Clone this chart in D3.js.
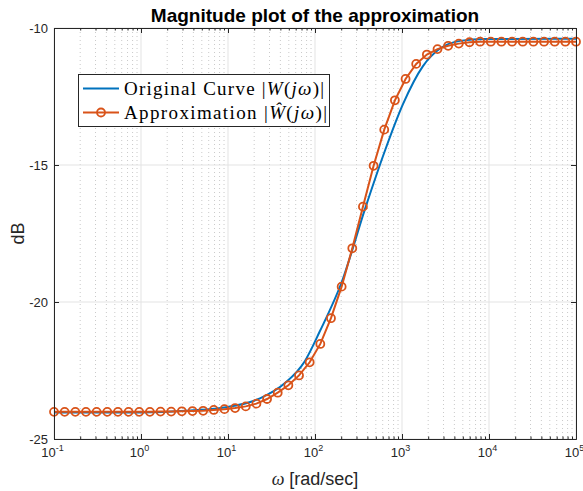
<!DOCTYPE html>
<html>
<head>
<meta charset="utf-8">
<script src="https://cdn.jsdelivr.net/npm/d3@7"></script>
<style>
  body { margin: 0; background: #fff; }
</style>
</head>
<body>
<script>
// original curve |W(jw)|
const origW = [0.1, 1, 3.66, 9.5, 23.3, 45.2, 76.7, 114, 203, 376, 638, 1026, 1742, 2735, 4645, 9000, 1e5]
const origDb = [-24.03, -24.03, -23.96, -23.84, -23.52, -22.96, -22.15, -21.06, -19.27, -16.6, -14.47, -12.78, -11.39, -10.75, -10.47, -10.4, -10.39]

// approximation |W^(jw)|, one value per marker
const approxW = [0.1, 0.1326, 0.1758, 0.233, 0.3089, 0.4095, 0.5429, 0.7197, 0.9541, 1.265,
  1.677, 2.223, 2.947, 3.907, 5.179, 6.866, 9.103, 12.07, 16.0, 21.21,
  28.12, 37.28, 49.42, 65.51, 86.85, 115.1, 152.6, 202.4, 268.3, 355.6,
  471.5, 625.1, 828.6, 1099, 1456, 1931, 2560, 3393, 4498, 5964,
  7906, 10481, 13895, 18421, 24421, 32375, 42919, 56899, 75431, 100000]
const approxDb = [-24.01, -24.01, -24.01, -24.01, -24.01, -24.01, -24.01, -24.01, -24.01, -24.01,
  -24.0, -24.0, -23.99, -23.98, -23.97, -23.94, -23.91, -23.87, -23.81, -23.71,
  -23.54, -23.31, -23.04, -22.68, -22.2, -21.53, -20.59, -19.44, -18.04, -16.52,
  -15.03, -13.71, -12.64, -11.86, -11.31, -10.97, -10.77, -10.65, -10.57, -10.52,
  -10.5, -10.5, -10.5, -10.5, -10.5, -10.5, -10.5, -10.5, -10.5, -10.5]

const decades = [0.1, 1, 10, 100, 1000, 10000, 100000]
const decadeExp = ['-1', '0', '1', '2', '3', '4', '5']
const yTicks = [-25, -20, -15, -10]

let width = 583
let height = 491
let pLeft = 54, pRight = 576, pTop = 28, pBottom = 439
let blue = '#0072bd'
let red = '#d95319'
let axisColor = '#262626'
let sans = '"Liberation Sans", Arial, sans-serif'
let serif = '"Liberation Serif", "Times New Roman", serif'

let minor = []
decades.slice(0, -1).forEach(d => {
  for (let m = 2; m <= 9; m++) minor.push(d * m)
})

let svg = d3.select('body').append('svg')
  .attr('width', width)
  .attr('height', height)
  .style('font-family', sans)

//scales
let xScale = d3.scaleLog().domain([0.1, 1e5]).range([pLeft, pRight])
let yScale = d3.scaleLinear().domain([-25, -10]).range([pBottom, pTop])

// grid
let grid = svg.append('g')
grid.selectAll('.minor').data(minor).enter().append('line')
  .attr('x1', d => xScale(d)).attr('x2', d => xScale(d))
  .attr('y1', pTop).attr('y2', pBottom)
  .attr('stroke', '#bdbdbd').attr('stroke-width', 0.8)
  .attr('stroke-dasharray', '1,3')
grid.selectAll('.vmajor').data(decades).enter().append('line')
  .attr('x1', d => xScale(d)).attr('x2', d => xScale(d))
  .attr('y1', pTop).attr('y2', pBottom)
  .attr('stroke', '#e3e3e3').attr('stroke-width', 1)
grid.selectAll('.hmajor').data(yTicks).enter().append('line')
  .attr('x1', pLeft).attr('x2', pRight)
  .attr('y1', d => yScale(d)).attr('y2', d => yScale(d))
  .attr('stroke', '#e3e3e3').attr('stroke-width', 1)

// curves
let line = d3.line()
  .x(d => xScale(d[0]))
  .y(d => yScale(d[1]))

svg.append('path')
  .datum(origW.map((w, i) => [w, origDb[i]]))
  .attr('d', line.curve(d3.curveMonotoneX))
  .attr('fill', 'none')
  .attr('stroke', blue)
  .attr('stroke-width', 2)

let approx = approxW.map((w, i) => [w, approxDb[i]])
svg.append('path')
  .datum(approx)
  .attr('d', d3.line().x(d => xScale(d[0])).y(d => yScale(d[1])))
  .attr('fill', 'none')
  .attr('stroke', red)
  .attr('stroke-width', 2)
svg.selectAll('circle.mk').data(approx).enter().append('circle')
  .attr('class', 'mk')
  .attr('cx', d => xScale(d[0]))
  .attr('cy', d => yScale(d[1]))
  .attr('r', 4)
  .attr('fill', 'none')
  .attr('stroke', red)
  .attr('stroke-width', 1.8)

// axes (ticks pointing inward)
function styleAxis(g) {
  g.selectAll('path, line').attr('stroke', axisColor)
  g.selectAll('text').attr('fill', axisColor).attr('font-size', 13).style('font-family', sans)
}
let noLabel = () => ''

svg.append('g').attr('transform', `translate(0,${pBottom})`)
  .call(d3.axisBottom(xScale).tickValues(minor).tickSize(-2.5).tickSizeOuter(0).tickFormat(noLabel))
  .call(styleAxis)
let xAxis = svg.append('g').attr('transform', `translate(0,${pBottom})`)
  .call(d3.axisBottom(xScale).tickValues(decades).tickSize(-5).tickSizeOuter(0).tickPadding(9).tickFormat(noLabel))
  .call(styleAxis)
xAxis.selectAll('.tick text').each(function (d, i) {
  let t = d3.select(this).attr('dx', -2)
  t.append('tspan').text('10')
  t.append('tspan').attr('dy', -6).attr('font-size', 9).text(decadeExp[i])
})

svg.append('g').attr('transform', `translate(0,${pTop})`)
  .call(d3.axisTop(xScale).tickValues(minor).tickSize(-2.5).tickSizeOuter(0).tickFormat(noLabel))
  .call(styleAxis)
svg.append('g').attr('transform', `translate(0,${pTop})`)
  .call(d3.axisTop(xScale).tickValues(decades).tickSize(-5).tickSizeOuter(0).tickFormat(noLabel))
  .call(styleAxis)

svg.append('g').attr('transform', `translate(${pLeft},0)`)
  .call(d3.axisLeft(yScale).tickValues(yTicks).tickSize(-5).tickSizeOuter(0).tickPadding(6).tickFormat(d => String(d)))
  .call(styleAxis)
svg.append('g').attr('transform', `translate(${pRight},0)`)
  .call(d3.axisRight(yScale).tickValues(yTicks).tickSize(-5).tickSizeOuter(0).tickFormat(noLabel))
  .call(styleAxis)

// labels
svg.append('text')
  .attr('x', (pLeft + pRight) / 2).attr('y', 22)
  .attr('text-anchor', 'middle')
  .attr('font-size', 19).attr('font-weight', 'bold').attr('fill', '#000')
  .text('Magnitude plot of the approximation')

let xl = svg.append('text')
  .attr('x', (pLeft + pRight) / 2).attr('y', 485)
  .attr('text-anchor', 'middle')
  .attr('font-size', 18).attr('fill', axisColor)
xl.append('tspan').attr('font-style', 'italic').style('font-family', serif).text('ω')
xl.append('tspan').text(' [rad/sec]')

svg.append('text')
  .attr('transform', `translate(24,${(pTop + pBottom) / 2}) rotate(-90)`)
  .attr('text-anchor', 'middle')
  .attr('font-size', 18).attr('fill', axisColor)
  .text('dB')

// legend
let lg = svg.append('g')
lg.append('rect')
  .attr('x', 78.5).attr('y', 74.5).attr('width', 251).attr('height', 52)
  .attr('fill', '#fff').attr('stroke', axisColor).attr('stroke-width', 1)
let entries = [
  { color: blue, marker: false, pre: 'Original Curve |', sym: 'W', post: '(', jw: 'jω', end: ')|', len: 200 },
  { color: red, marker: true, pre: 'Approximation |', sym: 'Ŵ', post: '(', jw: 'jω', end: ')|', len: 203 }
]
entries.forEach((e, i) => {
  let cy = 88.5 + i * 24
  lg.append('line').attr('x1', 83).attr('x2', 119).attr('y1', cy).attr('y2', cy)
    .attr('stroke', e.color).attr('stroke-width', 2)
  if (e.marker) {
    lg.append('circle').attr('cx', 101).attr('cy', cy).attr('r', 4)
      .attr('fill', 'none').attr('stroke', e.color).attr('stroke-width', 1.8)
  }
  let t = lg.append('text').attr('x', 124).attr('y', cy + 6)
    .style('font-family', serif).attr('font-size', 19).attr('fill', '#000')
    .attr('textLength', e.len).attr('lengthAdjust', 'spacing')
  t.append('tspan').text(e.pre)
  t.append('tspan').attr('font-style', 'italic').text(e.sym)
  t.append('tspan').text(e.post)
  t.append('tspan').attr('font-style', 'italic').text(e.jw)
  t.append('tspan').text(e.end)
})
</script>
</body>
</html>
